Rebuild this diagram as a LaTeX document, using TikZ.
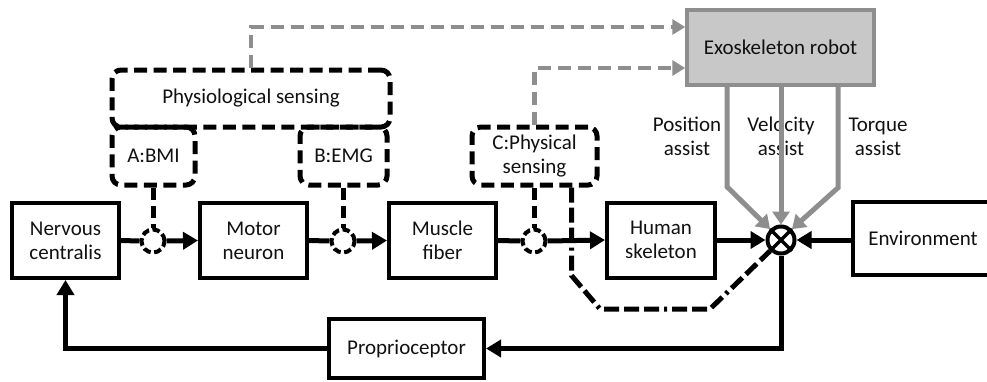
\documentclass[tikz,border=0pt]{standalone}
\usepackage{fontspec}
\setmainfont{Carlito}
\usetikzlibrary{arrows.meta}
\definecolor{gline}{HTML}{8E8E8E}
\definecolor{gfill}{HTML}{C8C8C8}
\definecolor{tcol}{HTML}{111111}
\begin{document}
\begin{tikzpicture}[x=1pt,y=-1pt,
  txt/.style={font=\fontsize{21}{24}\selectfont, align=center, text=tcol},
  blk/.style={txt, draw, line width=4pt, inner sep=0pt},
  dbox/.style={txt, draw, line width=5pt, dash pattern=on 13pt off 6.5pt, rounded corners=9pt, inner sep=0pt},
  dcirc/.style={circle, draw, line width=4pt, dash pattern=on 7.5pt off 3.5pt, minimum size=23pt, inner sep=0pt},
  conn/.style={line width=5pt},
  ar/.style={conn, -{Triangle[length=15pt,width=17pt]}},
  sensl/.style={line width=5pt, dash pattern=on 12pt off 6pt},
  ddot/.style={line width=5pt, dash pattern=on 15pt off 5pt on 15pt off 5pt on 15pt off 5pt on 3pt off 5pt},
  gdash/.style={gline, line width=4.5pt, dash pattern=on 13pt off 7pt, -{Triangle[length=13pt,width=15pt]}},
  gas/.style={gline, line width=5pt, -{Triangle[length=13pt,width=17pt]}},
]
\useasboundingbox (0,0) rectangle (987,381);
% main boxes
\node[blk, minimum width=107pt, minimum height=75pt] (nc) at (65.5,240.5) {Nervous\\centralis};
\node[blk, minimum width=107pt, minimum height=75pt] (mn) at (253.5,240.5) {Motor\\neuron};
\node[blk, minimum width=107pt, minimum height=75pt] (mf) at (442.5,240.5) {Muscle\\fiber};
\node[blk, minimum width=108pt, minimum height=75pt] (hs) at (661,240) {Human\\skeleton};
\node[blk, minimum width=140pt, minimum height=73pt] (env) at (923,238) {Environment};
\node[blk, minimum width=155pt, minimum height=59pt] (pp) at (406.5,348.5) {Proprioceptor};
\node[txt, draw=gline, fill=gfill, line width=3.5pt, minimum width=187pt, minimum height=75pt, inner sep=0pt] (exo) at (780.5,47.5) {Exoskeleton robot};
% summing junction
\node[circle, draw, line width=4pt, minimum size=27pt, inner sep=0pt] (sj) at (781,240) {};
\draw[line width=3.5pt] (sj.north west) -- (sj.south east) (sj.north east) -- (sj.south west);
% dashed pick-off circles
\node[dcirc] (c1) at (153,241) {};
\node[dcirc] (c2) at (343,241) {};
\node[dcirc] (c3) at (534,241) {};
% sensing boxes
\node[dbox, minimum width=278pt, minimum height=57pt] (phy) at (251,98.5) {Physiological sensing};
\node[dbox, minimum width=83pt, minimum height=58pt] (bmi) at (153.5,156) {A:BMI};
\node[dbox, minimum width=87pt, minimum height=58pt] (emg) at (343.5,156) {B:EMG};
\node[dbox, minimum width=125pt, minimum height=58pt] (cps) at (534.5,156) {C:Physical\\sensing};
% main signal path
\draw[conn] (nc.east) -- (c1.west);
\draw[ar] (c1.east) -- (mn.west);
\draw[conn] (mn.east) -- (c2.west);
\draw[ar] (c2.east) -- (mf.west);
\draw[conn] (mf.east) -- (c3.west);
\draw[ar] (c3.east) -- (hs.west);
\draw[ar] (hs.east) -- (sj.west);
\draw[ar] (env.west |- sj.east) -- (sj.east);
\draw[ar] (sj.south) |- (pp.east);
\draw[ar] (pp.west) -| (nc.south);
% sensing connections
\draw[sensl] (bmi.south -| c1) -- (c1.north);
\draw[sensl] (emg.south -| c2) -- (c2.north);
\draw[sensl] (cps.south -| c3) -- (c3.north);
\draw[ddot] ([xshift=-28pt]cps.south east) -- ++(0,88) -- (600,309) -- (710,309) -- (sj.south west);
% to exoskeleton
\draw[gdash] (phy.north) |- ([yshift=20.5pt]exo.west);
\draw[gdash] (cps.north) |- ([yshift=-20.5pt]exo.west);
% assist labels
\node[txt] (lp) at (687,136.5) {Position\\assist};
\node[txt] (lv) at (781,136.5) {Velocity\\assist};
\node[txt] (lt) at (878,136.5) {Torque\\assist};
% assist arrows
\draw[gas] ([xshift=-53.5pt]exo.south) -- ++(0,100) -- (sj.north west);
\draw[gas] (exo.south -| sj) -- (sj.north);
\draw[gas] ([xshift=57.5pt]exo.south) -- ++(0,101) -- (sj.north east);
\end{tikzpicture}
\end{document}
